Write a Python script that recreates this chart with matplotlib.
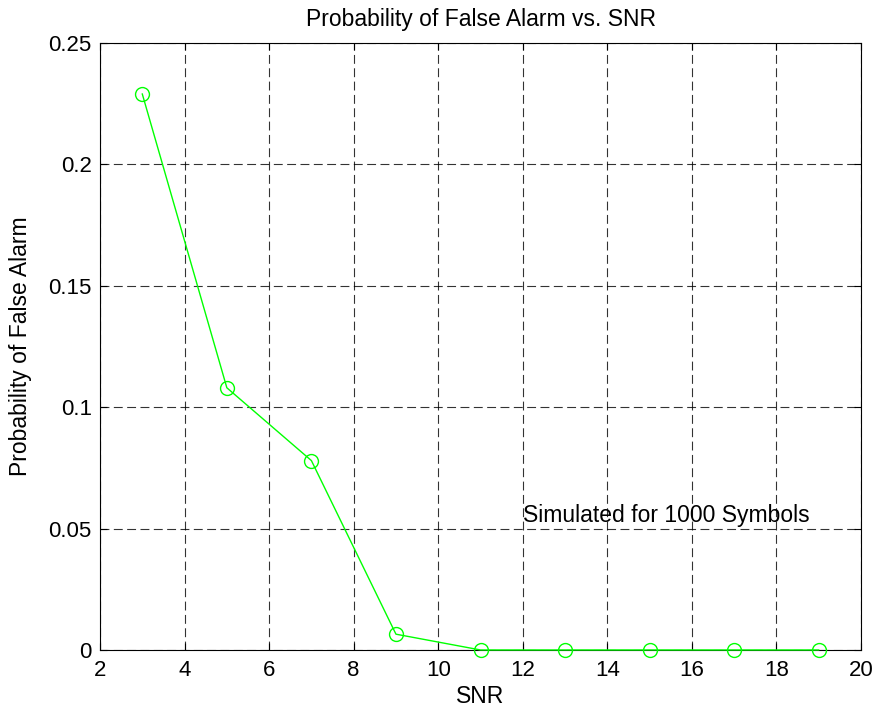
import matplotlib
matplotlib.use("Agg")
import matplotlib.pyplot as plt

snr = [3, 5, 7, 9, 11, 13, 15, 17, 19]
pfa = [0.229, 0.108, 0.078, 0.0065, 0, 0, 0, 0, 0]
xticks = list(range(2, 21, 2))
yticks = [0, 0.05, 0.1, 0.15, 0.2, 0.25]
ylabels = ["0", "0.05", "0.1", "0.15", "0.2", "0.25"]

plt.rcParams["font.family"] = ["Liberation Sans", "DejaVu Sans"]

fig = plt.figure(figsize=(8.89, 7.17), dpi=100)
ax = fig.add_axes([0.1125, 0.0935, 0.856, 0.8465])

ax.plot(snr, pfa, color="#00ff00", lw=1, marker="o", mfc="none", mec="#00ff00", ms=10, mew=1, clip_on=False, zorder=3)

ax.set_xlim(2, 20)
ax.set_ylim(0, 0.25)
ax.set_xticks(xticks)
ax.set_yticks(yticks)
ax.set_yticklabels(ylabels)
ax.tick_params(direction="in", length=5, top=True, right=True, labelsize=16)
ax.tick_params(axis="x", pad=7)
ax.tick_params(axis="y", pad=6)
ax.grid(True, color="black", ls=(0, (8, 4)), lw=0.8, alpha=0.8)
for s in ax.spines.values():
    s.set_linewidth(0.8)

ax.set_title("Probability of False Alarm vs. SNR", fontsize=16.5, pad=12)
ax.set_xlabel("SNR", fontsize=16.5, labelpad=3)
ax.set_ylabel("Probability of False Alarm", fontsize=16.5, labelpad=12)
ax.text(12, 0.0555, "Simulated for 1000 Symbols", fontsize=16.5, va="center", ha="left")

fig.savefig("out.png", dpi=100)
